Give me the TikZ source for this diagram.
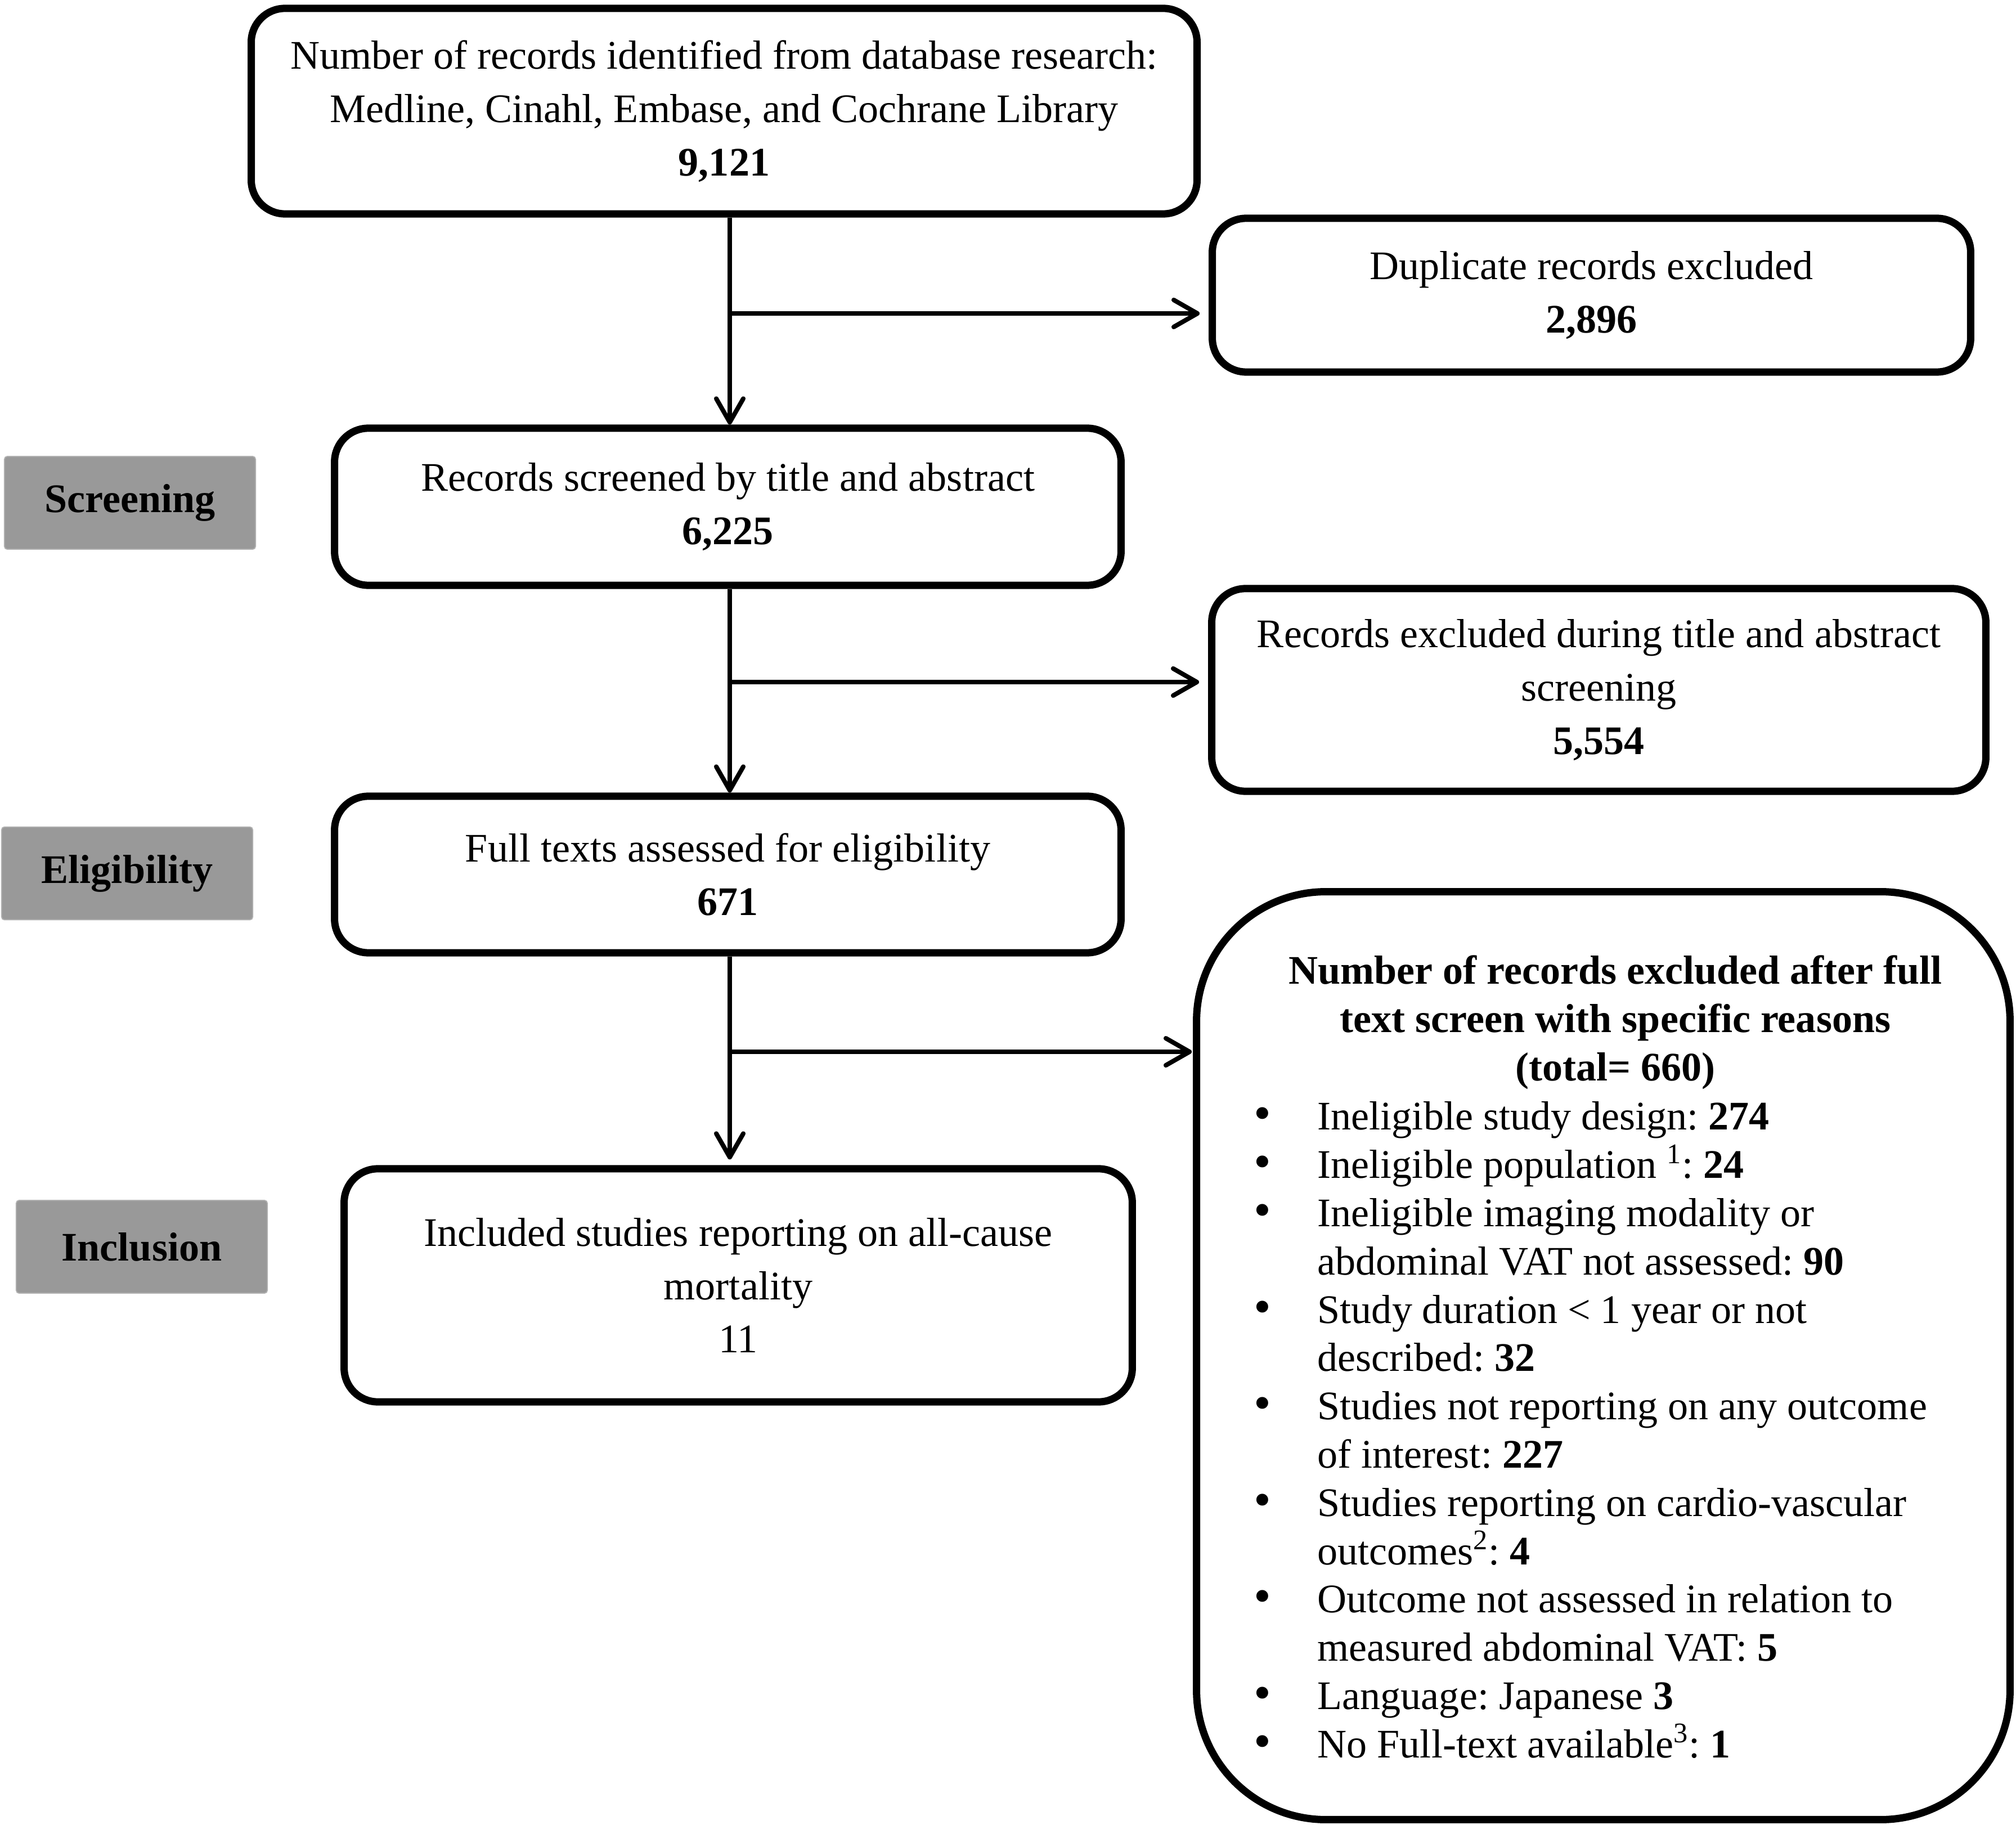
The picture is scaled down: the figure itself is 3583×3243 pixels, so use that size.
\documentclass[tikz,border=0pt]{standalone}
\usepackage{fontspec}
\setmainfont{Liberation Serif}
\usetikzlibrary{arrows.meta}
\frenchspacing
\definecolor{stagegray}{HTML}{999999}
\newcommand{\flowsize}{\fontsize{20.5}{27}\selectfont}
\newcommand{\listsize}{\fontsize{20.5}{24.4}\selectfont}
\newcommand{\itm}{\makebox[1.13cm][l]{\fontsize{25}{24.4}\selectfont\textbullet}}
\newcommand{\cont}{\hspace*{1.13cm}}

\begin{document}
\begin{tikzpicture}
  [x=0.01cm, y=-0.01cm,
   box/.style={rectangle, draw, rounded corners=0.6cm, line width=3.7pt, align=center, font=\flowsize},
   stage/.style={rectangle, rounded corners=0.05cm, fill=stagegray, draw=gray!60, line width=0.5pt, minimum width=4.46cm, minimum height=1.65cm, font=\flowsize\bfseries},
   link/.style={line width=2.3pt, -{Straight Barb[length=0.42cm, width=0.48cm, round]}}]
  \useasboundingbox (0,0) rectangle (3583,3243);

  \node (search) [box, minimum width=16.8cm, minimum height=3.65cm] at (1287,197.5)
    {Number of records identified from database research:\\ Medline, Cinahl, Embase, and Cochrane Library\\ \textbf{9,121}};
  \node (dup) [box, minimum width=13.47cm, minimum height=2.73cm] at (2828.5,524.5)
    {Duplicate records excluded\\ \textbf{2,896}};
  \node (screen) [box, minimum width=13.97cm, minimum height=2.79cm] at (1293.5,900.5)
    {Records screened by title and abstract\\ \textbf{6,225}};
  \node (tiab) [box, minimum width=13.75cm, minimum height=3.6cm] at (2841.5,1226)
    {Records excluded during title and abstract\\ screening\\ \textbf{5,554}};
  \node (fulltext) [box, minimum width=13.97cm, minimum height=2.78cm] at (1293.5,1554)
    {Full texts assessed for eligibility\\ \textbf{671}};
  \node (incl) [box, minimum width=14cm, minimum height=4.14cm] at (1312,2284)
    {Included studies reporting on all-cause\\ mortality\\ 11};
  \node (excl) [box, rounded corners=2.3cm, minimum width=14.45cm, minimum height=16.48cm] at (2849.5,2409) {};

  \node (exclhead) [font=\listsize\bfseries, align=center, inner sep=0pt] at (2871,1817)
    {Number of records excluded after full\\ text screen with specific reasons\\ (total= 660)};
  \node (excllist) [font=\listsize, align=left, inner sep=0pt, anchor=west] at (2228,2541)
    {\itm Ineligible study design: \textbf{274}\\
     \itm Ineligible population \textsuperscript{1}: \textbf{24}\\
     \itm Ineligible imaging modality or\\
     \cont abdominal VAT not assessed: \textbf{90}\\
     \itm Study duration < 1 year or not\\
     \cont described: \textbf{32}\\
     \itm Studies not reporting on any outcome\\
     \cont of interest: \textbf{227}\\
     \itm Studies reporting on cardio-vascular\\
     \cont outcomes\textsuperscript{2}: \textbf{4}\\
     \itm Outcome not assessed in relation to\\
     \cont measured abdominal VAT: \textbf{5}\\
     \itm Language: Japanese \textbf{3}\\
     \itm No Full-text available\textsuperscript{3}: \textbf{1}};

  \node (screening) [stage] at (231,893.5) {Screening};
  \node (eligibility) [stage] at (226,1552) {Eligibility};
  \node (inclusion) [stage] at (252,2215.5) {Inclusion};

  \coordinate (spine) at (1297,0);
  \coordinate (b1) at (1297,557);
  \coordinate (b2) at (1297,1212);
  \coordinate (b3) at (1297,1869);

  \draw [link] (search.south -| spine) -- (screen.north -| spine);
  \draw [link, shorten >=0.16cm] (b1) -- (b1 -| dup.west);
  \draw [link] (screen.south -| spine) -- (fulltext.north -| spine);
  \draw [link, shorten >=0.16cm] (b2) -- (b2 -| tiab.west);
  \draw [link] (fulltext.south -| spine) -- ([yshift=0.1cm]incl.north -| spine);
  \draw [link, shorten >=0.02cm] (b3) -- (b3 -| excl.west);
\end{tikzpicture}
\end{document}
